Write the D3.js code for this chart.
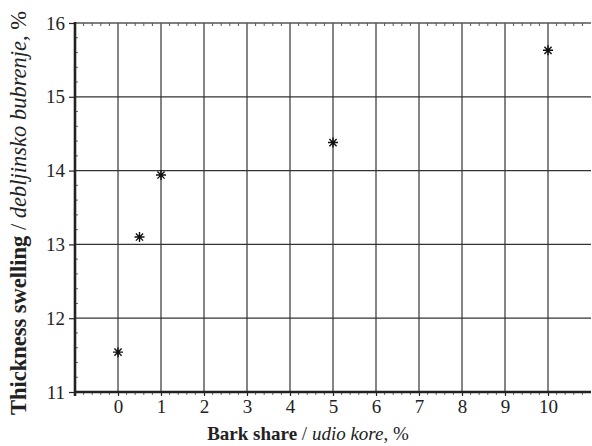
<!DOCTYPE html>
<html>
<head>
<meta charset="utf-8">
<script src="https://cdn.jsdelivr.net/npm/d3@7"></script>
<style>
  html, body { margin: 0; padding: 0; background: #fff; }
  svg { display: block; }
  svg text { font-family: "Liberation Serif", Tinos, "Times New Roman", Times, "DejaVu Serif", serif !important; fill: #222; }
</style>
</head>
<body>
<svg id="chart" width="592" height="446"></svg>
<script>
// Bark share (%) against thickness swelling (%)
const barkShare = [0, 0.5, 1, 5, 10];
const swelling = [11.54, 13.10, 13.94, 14.38, 15.63];
const xTicks = [0, 1, 2, 3, 4, 5, 6, 7, 8, 9, 10];
const yTicks = [11, 12, 13, 14, 15, 16];

const svg = d3.select("#chart");
const plotLeft = 75, plotRight = 591, plotTop = 23, plotBottom = 392;
const serif = "'Liberation Serif', Tinos, 'Times New Roman', Times, 'DejaVu Serif', serif";

const x = d3.scaleLinear().domain([-1, 11]).range([plotLeft, plotRight]);
const y = d3.scaleLinear().domain([11, 16]).range([plotBottom, plotTop]);

const ink = "#222";

// grid
svg.append("g").selectAll("line").data(xTicks).join("line")
  .attr("x1", d => x(d)).attr("x2", d => x(d))
  .attr("y1", plotTop).attr("y2", plotBottom)
  .attr("stroke", "#333").attr("stroke-width", 1.2);
svg.append("g").selectAll("line").data(yTicks.slice(1, -1)).join("line")
  .attr("x1", plotLeft).attr("x2", plotRight)
  .attr("y1", d => y(d)).attr("y2", d => y(d))
  .attr("stroke", "#333").attr("stroke-width", 1.2);

// minor ticks
const xMinor = d3.range(-1, 11.001, 0.2).filter(v => Math.abs(v - Math.round(v)) > 1e-6);
const yMinor = d3.range(11, 16.001, 0.2).filter(v => Math.abs(v - Math.round(v)) > 1e-6);

// top axis with inward minor ticks
svg.append("line").attr("x1", plotLeft).attr("x2", plotRight).attr("y1", plotTop).attr("y2", plotTop)
  .attr("stroke", "#555").attr("stroke-width", 1.6);
svg.append("g").selectAll("line").data(xMinor).join("line")
  .attr("x1", d => x(d)).attr("x2", d => x(d))
  .attr("y1", plotTop).attr("y2", plotTop + 3)
  .attr("stroke", "#555").attr("stroke-width", 1);

// bottom axis
const xAxis = d3.axisBottom(x).tickValues(xTicks).tickSize(4).tickPadding(4).tickFormat(d3.format("d"));
const gx = svg.append("g").attr("transform", `translate(0,${plotBottom})`).call(xAxis)
  .attr("font-family", serif);
gx.select(".domain").remove();
gx.selectAll(".tick line").attr("stroke", ink).attr("stroke-width", 1.2);
gx.selectAll(".tick text").attr("font-size", 19).attr("fill", ink);
svg.append("g").selectAll("line").data(xMinor).join("line")
  .attr("x1", d => x(d)).attr("x2", d => x(d))
  .attr("y1", plotBottom).attr("y2", plotBottom + 3)
  .attr("stroke", "#666").attr("stroke-width", 1);
svg.append("line").attr("x1", plotLeft - 1).attr("x2", plotRight).attr("y1", plotBottom).attr("y2", plotBottom)
  .attr("stroke", ink).attr("stroke-width", 2.6);

// left axis
const yAxis = d3.axisLeft(y).tickValues(yTicks).tickSize(6).tickPadding(4).tickFormat(d3.format("d"));
const gy = svg.append("g").attr("transform", `translate(${plotLeft},0)`).call(yAxis)
  .attr("font-family", serif);
gy.select(".domain").remove();
gy.selectAll(".tick line").attr("stroke", ink).attr("stroke-width", 1.2);
gy.selectAll(".tick text").attr("font-size", 19).attr("fill", ink);
svg.append("g").selectAll("line").data(yMinor).join("line")
  .attr("x1", plotLeft).attr("x2", plotLeft + 3)
  .attr("y1", d => y(d)).attr("y2", d => y(d))
  .attr("stroke", "#666").attr("stroke-width", 1);
svg.append("line").attr("x1", plotLeft).attr("x2", plotLeft).attr("y1", plotTop - 1).attr("y2", plotBottom + 4)
  .attr("stroke", ink).attr("stroke-width", 2.6);

// markers: eight-armed asterisks
const r = 5, d45 = r * 0.72;
const star = `M${-r},0L${r},0M0,${-r}L0,${r}M${-d45},${-d45}L${d45},${d45}M${-d45},${d45}L${d45},${-d45}`;
svg.append("g").selectAll("path").data(barkShare).join("path")
  .attr("transform", (d, i) => `translate(${x(d)},${y(swelling[i])})`)
  .attr("d", star)
  .attr("fill", "none").attr("stroke", "#111").attr("stroke-width", 1.4);

// axis titles
const xt = svg.append("text").attr("x", 308).attr("y", 440)
  .attr("text-anchor", "middle").attr("font-size", 19).attr("font-family", serif);
xt.append("tspan").attr("font-weight", "bold").text("Bark share");
xt.append("tspan").text(" / ");
xt.append("tspan").attr("font-style", "italic").text("udio kore");
xt.append("tspan").text(", %");

const yt = svg.append("text").attr("transform", `translate(26,213) rotate(-90)`)
  .attr("text-anchor", "middle").attr("font-size", 22.5).attr("font-family", serif);
yt.append("tspan").attr("font-weight", "bold").text("Thickness swelling");
yt.append("tspan").text(" / ");
yt.append("tspan").attr("font-style", "italic").text("debljinsko bubrenje");
yt.append("tspan").text(", %");
</script>
</body>
</html>
